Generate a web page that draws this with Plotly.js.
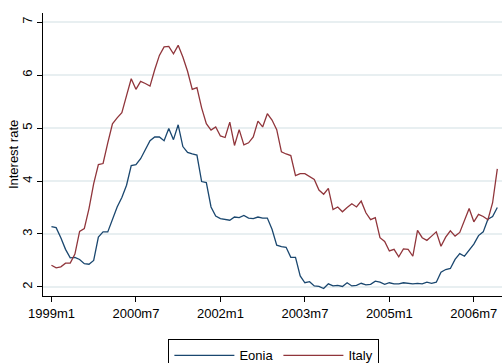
<!DOCTYPE html>
<html>
<head>
<meta charset="utf-8">
<script src="https://cdn.plot.ly/plotly-3.0.1.min.js"></script>
<style>
  html, body { margin: 0; padding: 0; background: #ffffff; }
  #chart { width: 503px; height: 363px; }
</style>
</head>
<body>
<div id="chart"></div>
<script>
// Monthly periods, 1999m1 .. 2006m12
const years = [1999, 2000, 2001, 2002, 2003, 2004, 2005, 2006];
const periods = [];
years.forEach(y => { for (let m = 1; m <= 12; m++) periods.push(y + 'm' + m); });

// Eonia overnight rate, monthly average (%)
const eonia = [
  3.14, 3.12, 2.93, 2.71, 2.55, 2.56, 2.52, 2.44, 2.43, 2.50, 2.94, 3.04,
  3.04, 3.28, 3.51, 3.69, 3.92, 4.29, 4.31, 4.42, 4.59, 4.76, 4.83, 4.83,
  4.76, 4.99, 4.78, 5.06, 4.65, 4.54, 4.51, 4.49, 3.99, 3.97, 3.51, 3.34,
  3.29, 3.28, 3.26, 3.32, 3.31, 3.35, 3.30, 3.29, 3.32, 3.30, 3.30, 3.09,
  2.79, 2.76, 2.75, 2.56, 2.56, 2.21, 2.08, 2.10, 2.02, 2.01, 1.97, 2.06,
  2.02, 2.03, 2.01, 2.08, 2.02, 2.03, 2.07, 2.04, 2.05, 2.11, 2.09, 2.05,
  2.08, 2.06, 2.06, 2.08, 2.07, 2.06, 2.07, 2.06, 2.09, 2.07, 2.09, 2.28,
  2.33, 2.35, 2.52, 2.63, 2.58, 2.70, 2.81, 2.97, 3.04, 3.28, 3.33, 3.50
];

// Italy interest rate (%)
const italy = [
  2.41, 2.36, 2.38, 2.45, 2.45, 2.62, 3.05, 3.10, 3.48, 3.95, 4.31, 4.33,
  4.72, 5.08, 5.19, 5.29, 5.61, 5.93, 5.73, 5.88, 5.84, 5.79, 6.10, 6.37,
  6.53, 6.54, 6.40, 6.56, 6.34, 6.07, 5.73, 5.76, 5.38, 5.08, 4.96, 5.02,
  4.85, 4.82, 5.11, 4.67, 4.97, 4.68, 4.72, 4.83, 5.13, 5.02, 5.27, 5.15,
  4.97, 4.55, 4.51, 4.48, 4.10, 4.14, 4.14, 4.09, 4.03, 3.83, 3.75, 3.86,
  3.46, 3.51, 3.42, 3.50, 3.57, 3.51, 3.62, 3.40, 3.27, 3.31, 2.93, 2.86,
  2.68, 2.71, 2.57, 2.72, 2.71, 2.58, 3.07, 2.93, 2.88, 2.96, 3.04, 2.77,
  2.94, 3.06, 2.96, 3.03, 3.24, 3.48, 3.23, 3.37, 3.33, 3.27, 3.59, 4.23
];

const xTicks = ['1999m1', '2000m7', '2002m1', '2003m7', '2005m1', '2006m7'];
const yTicks = [2, 3, 4, 5, 6, 7];
const yTitle = 'Interest rate';

const traces = [
  { x: periods, y: eonia, name: 'Eonia', type: 'scatter', mode: 'lines',
    line: { color: '#1a476f', width: 1.3 } },
  { x: periods, y: italy, name: 'Italy', type: 'scatter', mode: 'lines',
    line: { color: '#90353b', width: 1.3 } }
];

const font = { family: 'Liberation Sans, Arial, sans-serif', size: 13, color: '#000000' };

const layout = {
  width: 503, height: 363,
  margin: { l: 43, r: 1, t: 13, b: 67, autoexpand: false },
  paper_bgcolor: '#ffffff',
  plot_bgcolor: '#ffffff',
  font: font,
  showlegend: true,
  xaxis: {
    type: 'category',
    range: [-1.8, 96],
    tickmode: 'array', tickvals: xTicks, ticktext: xTicks,
    ticks: 'outside', ticklen: 5, tickcolor: '#000000', tickwidth: 1,
    showgrid: false, zeroline: false,
    showline: true, linecolor: '#000000', linewidth: 1,
    tickfont: font
  },
  yaxis: {
    range: [1.83, 7.17],
    tickmode: 'array', tickvals: yTicks,
    ticks: 'outside', ticklen: 5, tickcolor: '#000000', tickwidth: 1,
    tickangle: -90,
    showgrid: true, gridcolor: '#e8eff1', gridwidth: 1.2,
    zeroline: false,
    showline: true, linecolor: '#000000', linewidth: 1,
    tickfont: font
  },
  // vertical axis title, placed left of the rotated tick labels
  annotations: [{
    text: yTitle, textangle: -90, showarrow: false,
    xref: 'paper', yref: 'paper', x: -0.064, y: 0.5,
    xanchor: 'center', yanchor: 'middle',
    font: font
  }],
  legend: {
    orientation: 'h',
    x: 0.503, xanchor: 'center', xref: 'paper',
    y: 0.065, yanchor: 'top', yref: 'container',
    bordercolor: '#000000', borderwidth: 1,
    bgcolor: '#ffffff',
    itemwidth: 60,
    font: font,
    traceorder: 'normal'
  }
};

Plotly.newPlot('chart', traces, layout, { displayModeBar: false, staticPlot: true });
</script>
</body>
</html>
